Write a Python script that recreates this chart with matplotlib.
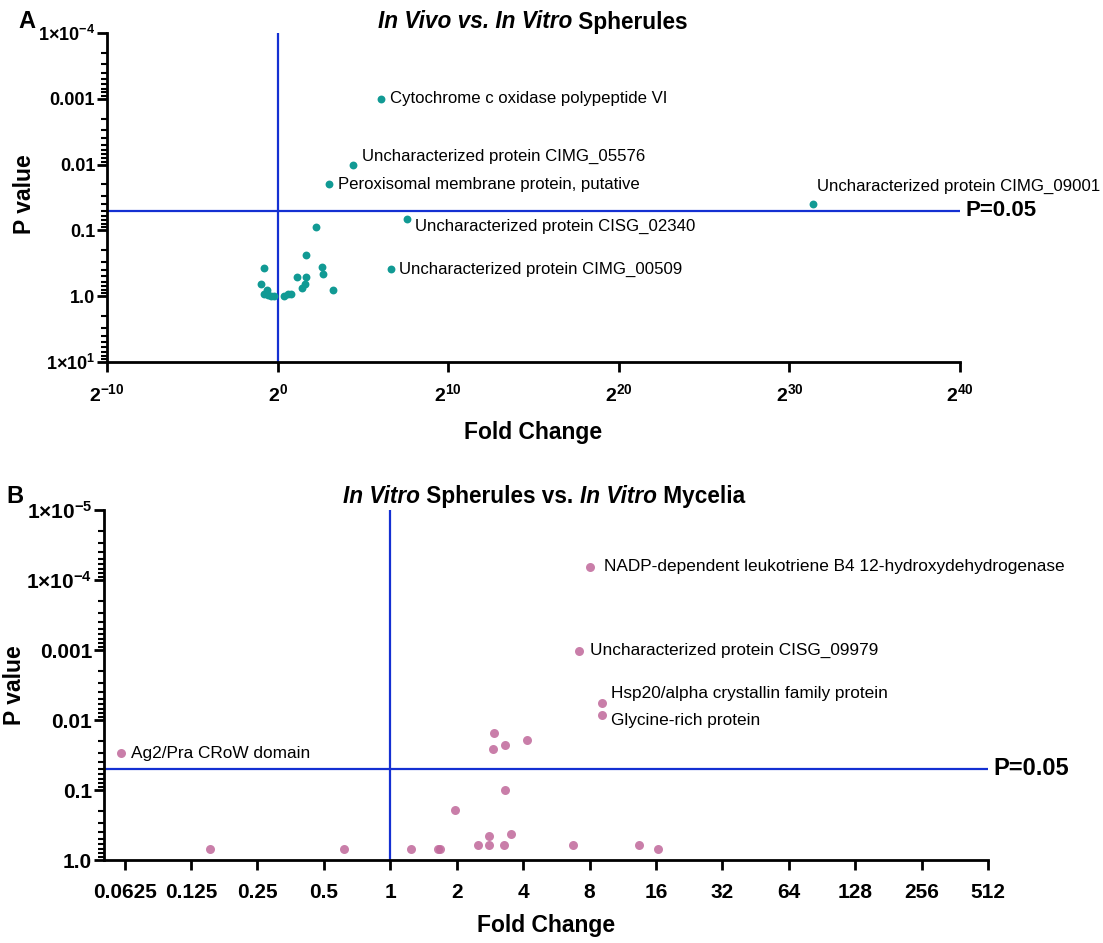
import matplotlib
matplotlib.use('Agg')
import matplotlib.pyplot as plt
import numpy as np
from matplotlib import font_manager

# fonts: narrow Arial-like if present
names = {f.name for f in font_manager.fontManager.ttflist}
fam = 'Liberation Sans Narrow' if 'Liberation Sans Narrow' in names else 'Liberation Sans'
plt.rcParams['font.family'] = [fam, 'DejaVu Sans']
plt.rcParams['mathtext.fontset'] = 'custom'
plt.rcParams['mathtext.bf'] = fam + ':bold'
plt.rcParams['mathtext.rm'] = fam
plt.rcParams['mathtext.default'] = 'bf'

'''Panel A data: in vivo vs in vitro spherules'''
fcA = [65.8, 21.1, 8.0, 2.83e9, 188.7, 98.4,
       4.69, 3.12, 0.574, 6.15, 6.28, 2.16, 3.20, 0.5, 2.99, 2.73, 9.58,
       0.66, 0.574, 0.67, 0.77, 0.87, 1.29, 1.52, 1.74]
pA = [0.001, 0.01, 0.02, 0.04, 0.068, 0.39,
      0.089, 0.234, 0.37, 0.36, 0.46, 0.51, 0.51, 0.66, 0.66, 0.76, 0.81,
      0.81, 0.93, 0.97, 1.0, 1.0, 1.0, 0.91, 0.93]
labelsA = ['Cytochrome c oxidase polypeptide VI',
           'Uncharacterized protein CIMG_05576',
           'Peroxisomal membrane protein, putative',
           'Uncharacterized protein CIMG_09001',
           'Uncharacterized protein CISG_02340',
           'Uncharacterized protein CIMG_00509']
offA = [(9, 0), (9, 8), (9, 0), (4, 18), (8, -7), (8, 0)]

'''Panel B data: in vitro spherules vs in vitro mycelia'''
fcB = [8.0, 7.2, 9.1, 9.1, 0.06,
       0.152, 0.616, 1.24, 1.65, 1.68, 1.96, 2.51, 2.81, 2.81, 2.95, 2.93,
       3.32, 3.32, 3.53, 3.29, 4.17, 6.73, 13.45, 16.3]
pB = [6.5e-5, 0.00103, 0.0057, 0.0085, 0.030,
      0.70, 0.70, 0.70, 0.70, 0.70, 0.19, 0.62, 0.45, 0.62, 0.0155, 0.026,
      0.023, 0.10, 0.42, 0.62, 0.019, 0.62, 0.62, 0.70]
labelsB = ['NADP-dependent leukotriene B4 12-hydroxydehydrogenase',
           'Uncharacterized protein CISG_09979',
           'Hsp20/alpha crystallin family protein',
           'Glycine-rich protein',
           'Ag2/Pra CRoW domain']
offB = [(14, 0), (11, 0), (9, 9), (9, -5), (10, 0)]

ticksA = [2.0**-10, 2.0**0, 2.0**10, 2.0**20, 2.0**30, 2.0**40]
tlabA = ['2$^{-10}$', '2$^{0}$', '2$^{10}$', '2$^{20}$', '2$^{30}$', '2$^{40}$']
yticksA = [1e-4, 1e-3, 1e-2, 1e-1, 1, 10]
ylabA = ['1×10$^{-4}$', '0.001', '0.01', '0.1', '1.0', '1×10$^{1}$']
ticksB = [0.0625, 0.125, 0.25, 0.5, 1, 2, 4, 8, 16, 32, 64, 128, 256, 512]
tlabB = ['0.0625', '0.125', '0.25', '0.5', '1', '2', '4', '8', '16', '32', '64', '128', '256', '512']
yticksB = [1e-5, 1e-4, 1e-3, 1e-2, 1e-1, 1]
ylabB = ['1×10$^{-5}$', '1×10$^{-4}$', '0.001', '0.01', '0.1', '1.0']

blue = '#1430d2'
W, H = 1103, 943
fig = plt.figure(figsize=(W/100, H/100), dpi=100)
axA = fig.add_axes([107/W, 1-362/H, 853/W, 329/H])
axB = fig.add_axes([104/W, 1-860/H, 884/W, 350/H])


def style(ax, xt, xl, yt, yl, xsize, ysize, xpad):
    ax.set_xscale('log', base=2)
    ax.set_yscale('log')
    for s in ['top', 'right']:
        ax.spines[s].set_visible(False)
    for s in ['left', 'bottom']:
        ax.spines[s].set_linewidth(2)
    ax.set_xticks(xt)
    ax.set_xticklabels(xl)
    ax.xaxis.set_minor_locator(matplotlib.ticker.NullLocator())
    ax.set_yticks(yt)
    ax.set_yticklabels(yl)
    ax.tick_params(which='major', length=7, width=2)
    ax.tick_params(which='minor', length=4, width=1.5)
    ax.tick_params(axis='x', labelsize=xsize, pad=xpad)
    ax.tick_params(axis='y', labelsize=ysize, pad=1.5)
    for t in ax.get_xticklabels() + ax.get_yticklabels():
        t.set_fontweight('bold')
    ax.set_xlabel('Fold Change', fontsize=16.5, fontweight='bold')
    ax.set_ylabel('P value', fontsize=16.5, fontweight='bold')


style(axA, ticksA, tlabA, yticksA, ylabA, 14, 13, 8)
axA.set_xlim(2.0**-10, 2.0**40)
axA.set_ylim(10, 1e-4)
axA.scatter(fcA, pA, s=32, color='#119a94', zorder=3, lw=0, clip_on=False)
for i, lab in enumerate(labelsA):
    axA.annotate(lab, (fcA[i], pA[i]), xytext=offA[i], textcoords='offset pixels',
                 ha='left', va='center', fontsize=12.1, annotation_clip=False)
axA.axvline(1, color=blue, lw=1.6)
axA.axhline(0.05, color=blue, lw=1.6)
axA.text(1.006, 0.05, 'P=0.05', transform=axA.get_yaxis_transform(), ha='left', va='center',
         fontsize=16, fontweight='bold')
axA.xaxis.set_label_coords(0.5, -0.18)
axA.yaxis.set_label_coords(-0.083, 0.51)

style(axB, ticksB, tlabB, yticksB, ylabB, 15, 15, 9.5)
axB.set_xlim(2.0**-4.31, 2.0**9)
axB.set_ylim(1, 1e-5)
axB.scatter(fcB, pB, s=42, color='#c0689a', alpha=0.85, zorder=3, lw=0, clip_on=False)
for i, lab in enumerate(labelsB):
    axB.annotate(lab, (fcB[i], pB[i]), xytext=offB[i], textcoords='offset pixels',
                 ha='left', va='center', fontsize=12.4, annotation_clip=False)
axB.axvline(1, color=blue, lw=1.6)
axB.axhline(0.05, color=blue, lw=1.6)
axB.text(1.006, 0.05, 'P=0.05', transform=axB.get_yaxis_transform(), ha='left', va='center',
         fontsize=17, fontweight='bold')
axB.xaxis.set_label_coords(0.5, -0.155)
axB.yaxis.set_label_coords(-0.088, 0.5)

# titles with mixed italic pieces, centred on x (figure pixels)
def mixed_title(pieces, cx, cy):
    texts = []
    for s, it in pieces:
        t = fig.text(cx/W, 1-cy/H, s, fontsize=16.3, fontweight='bold',
                     fontstyle='italic' if it else 'normal', ha='left', va='center')
        texts.append(t)
    fig.canvas.draw()
    r = fig.canvas.get_renderer()
    bbs = [t.get_window_extent(r) for t in texts]
    widths = [b.width for b in bbs]
    x0 = cx - sum(widths)/2
    y_bottom = bbs[0].y0
    for t, w in zip(texts, widths):
        t.set_transform(matplotlib.transforms.IdentityTransform())
        t.set_position((x0, y_bottom))
        t.set_va('bottom')
        x0 += w


mixed_title([('In Vivo vs. In Vitro', True), (' Spherules', False)], 533, 22)
mixed_title([('In Vitro', True), (' Spherules vs. ', False), ('In Vitro', True), (' Mycelia', False)], 544, 497)

fig.text(27/W, 1-22/H, 'A', fontsize=17, fontweight='bold', family='Liberation Sans', ha='center', va='center')
fig.text(15/W, 1-497/H, 'B', fontsize=17, fontweight='bold', family='Liberation Sans', ha='center', va='center')

plt.savefig('out.png', dpi=100)
